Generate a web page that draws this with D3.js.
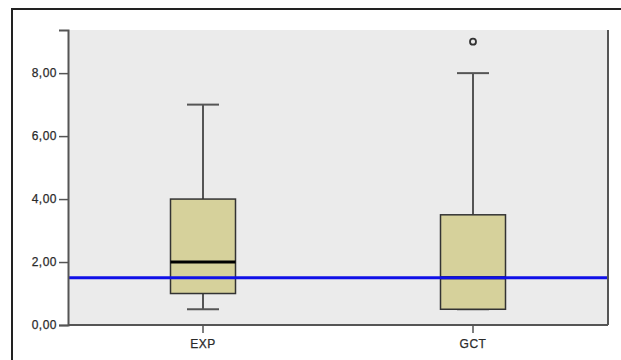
<!DOCTYPE html>
<html>
<head>
<meta charset="utf-8">
<script src="https://cdn.jsdelivr.net/npm/d3@7"></script>
<style>
  body { margin: 0; background: #fff; }
  svg { display: block; }
  .axis text { font-family: "Liberation Sans", Arial, sans-serif; font-size: 12px; fill: #2a2a2a; stroke: #2a2a2a; stroke-width: 0.25px; letter-spacing: 0.5px; }
</style>
</head>
<body>
<div id="chart"></div>
<script>
// Box plot data
const groups = ["EXP", "GCT"];
const lowWhisker = [0.5, 0.5];
const q1 = [1.0, 0.5];
const median = [2.0, 1.5];
const q3 = [4.0, 3.5];
const highWhisker = [7.0, 8.0];
const outliers = [[], [9.0]];
const refLine = 1.5;
const yTicks = [0, 2, 4, 6, 8];

const width = 621, height = 360;
const margin = {top: 30, left: 68, right: 13, bottom: 35};
const innerWidth = width - margin.left - margin.right;
const innerHeight = height - margin.top - margin.bottom;

const svg = d3.select("#chart")
    .append("svg")
        .attr("width", width)
        .attr("height", height);

// outer frame, runs off the picture on the right and bottom
svg.append("rect")
    .attr("x", 12).attr("y", 9)
    .attr("width", 640).attr("height", 400)
    .attr("fill", "none")
    .attr("stroke", "#222")
    .attr("stroke-width", 2);

const innerChart = svg.append("g")
    .attr("transform", `translate(${margin.left}, ${margin.top})`);

const yScale = d3.scaleLinear()
    .domain([0, 9.37])
    .range([innerHeight, 0]);
const xScale = d3.scaleBand()
    .domain(groups)
    .range([0, innerWidth])
    .padding(0);

innerChart.append("rect")
    .attr("width", innerWidth)
    .attr("height", innerHeight)
    .attr("fill", "#ebebeb");

const boxW = 65;
const capW = 32;

const boxes = groups.map((g, i) => ({
    name: g, lo: lowWhisker[i], q1: q1[i], med: median[i],
    q3: q3[i], hi: highWhisker[i], out: outliers[i]
}));

const gBox = innerChart.selectAll(".box")
    .data(boxes)
    .enter()
    .append("g")
    .attr("class", "box")
    .attr("transform", d => `translate(${xScale(d.name) + xScale.bandwidth() / 2}, 0)`);

// whiskers
gBox.append("line")
    .attr("x1", 0).attr("x2", 0)
    .attr("y1", d => yScale(d.hi)).attr("y2", d => yScale(d.q3))
    .attr("stroke", "#555").attr("stroke-width", 2);
gBox.append("line")
    .attr("x1", 0).attr("x2", 0)
    .attr("y1", d => yScale(d.q1)).attr("y2", d => yScale(d.lo))
    .attr("stroke", "#555").attr("stroke-width", 2);
gBox.append("line")
    .attr("x1", -capW / 2).attr("x2", capW / 2)
    .attr("y1", d => yScale(d.hi)).attr("y2", d => yScale(d.hi))
    .attr("stroke", "#555").attr("stroke-width", 2);
gBox.append("line")
    .attr("x1", -capW / 2).attr("x2", capW / 2)
    .attr("y1", d => yScale(d.lo)).attr("y2", d => yScale(d.lo))
    .attr("stroke", "#555").attr("stroke-width", 2);

gBox.append("rect")
    .attr("x", -boxW / 2)
    .attr("width", boxW)
    .attr("y", d => yScale(d.q3))
    .attr("height", d => yScale(d.q1) - yScale(d.q3))
    .attr("fill", "#d6d19b")
    .attr("stroke", "#333")
    .attr("stroke-width", 1.5);

gBox.append("line")
    .attr("x1", -boxW / 2).attr("x2", boxW / 2)
    .attr("y1", d => yScale(d.med)).attr("y2", d => yScale(d.med))
    .attr("stroke", "#000").attr("stroke-width", 3);

gBox.selectAll(".outlier")
    .data(d => d.out)
    .enter()
    .append("circle")
    .attr("class", "outlier")
    .attr("r", 3)
    .attr("cy", d => yScale(d))
    .attr("fill", "none")
    .attr("stroke", "#333")
    .attr("stroke-width", 1.8);

// reference line
innerChart.append("line")
    .attr("x1", 0).attr("x2", innerWidth)
    .attr("y1", yScale(refLine)).attr("y2", yScale(refLine))
    .attr("stroke", "#1010e8")
    .attr("stroke-width", 3);

// axes
const leftAxis = d3.axisLeft(yScale)
    .tickValues(yTicks)
    .tickSize(9)
    .tickPadding(2)
    .tickFormat(d => d3.format(".2f")(d).replace(".", ","));
const yAxisG = innerChart.append("g")
    .attr("class", "axis")
    .call(leftAxis);

const bottomAxis = d3.axisBottom(xScale).tickSize(8).tickPadding(6);
const xAxisG = innerChart.append("g")
    .attr("class", "axis")
    .attr("transform", `translate(0, ${innerHeight})`)
    .call(bottomAxis);

[yAxisG, xAxisG].forEach(a => {
    a.selectAll("path").attr("stroke", "#555").attr("stroke-width", 2);
    a.selectAll("line").attr("stroke", "#555").attr("stroke-width", 1.5);
});
xAxisG.select(".domain").attr("d", `M0,0H${innerWidth}`);

// right edge of plot
innerChart.append("line")
    .attr("x1", innerWidth).attr("x2", innerWidth)
    .attr("y1", 0).attr("y2", innerHeight)
    .attr("stroke", "#555").attr("stroke-width", 2);
</script>
</body>
</html>
